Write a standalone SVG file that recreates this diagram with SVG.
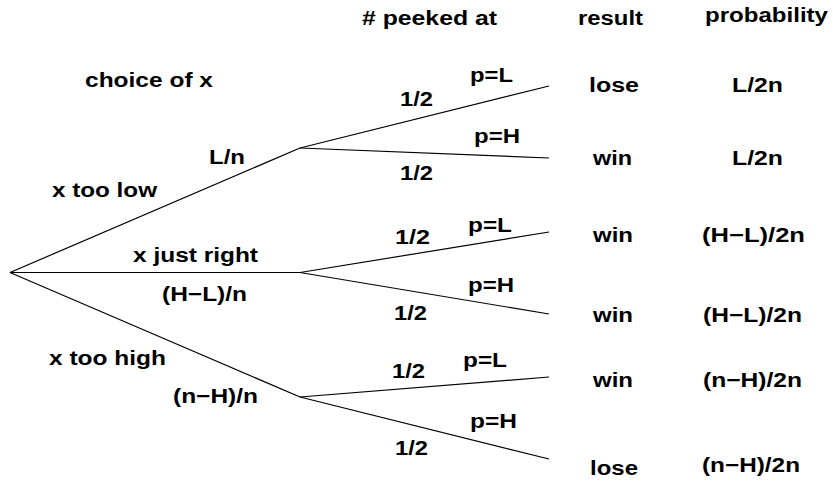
<svg xmlns="http://www.w3.org/2000/svg" width="833" height="482" viewBox="0 0 833 482">
<style>
text{font-family:"Liberation Sans",Arial,Helvetica,sans-serif;font-weight:bold;font-size:20px;fill:#000}
.ln{stroke:#000;stroke-width:1.2;fill:none}
</style>
<rect width="833" height="482" fill="#fff"/>
<g id="connectors">
<line class="ln" x1="10" y1="272.5" x2="300" y2="148"/>
<line class="ln" x1="10" y1="272.5" x2="300" y2="272.5"/>
<line class="ln" x1="10" y1="272.5" x2="300" y2="397"/>
<line class="ln" x1="300" y1="148" x2="549" y2="86"/>
<line class="ln" x1="300" y1="148" x2="549" y2="158"/>
<line class="ln" x1="300" y1="272.5" x2="549" y2="232"/>
<line class="ln" x1="300" y1="272.5" x2="549" y2="314"/>
<line class="ln" x1="300" y1="397" x2="549" y2="377"/>
<line class="ln" x1="300" y1="397" x2="549" y2="459"/>
</g>
<g id="headers">
<text x="362" y="25" textLength="135" lengthAdjust="spacingAndGlyphs"># peeked at</text>
<text x="578" y="25" textLength="65" lengthAdjust="spacingAndGlyphs">result</text>
<text x="705" y="22" textLength="123" lengthAdjust="spacingAndGlyphs">probability</text>
<text x="85" y="87" textLength="128" lengthAdjust="spacingAndGlyphs">choice of x</text>
</g>
<g id="x-too-low">
<text x="52" y="197" textLength="105" lengthAdjust="spacingAndGlyphs">x too low</text>
<text x="209" y="164" textLength="36" lengthAdjust="spacingAndGlyphs">L/n</text>
</g>
<g id="x-just-right">
<text x="133" y="262" textLength="125" lengthAdjust="spacingAndGlyphs">x just right</text>
<text x="162" y="301" textLength="85" lengthAdjust="spacingAndGlyphs">(H−L)/n</text>
</g>
<g id="x-too-high">
<text x="49" y="365" textLength="117" lengthAdjust="spacingAndGlyphs">x too high</text>
<text x="173" y="403" textLength="85" lengthAdjust="spacingAndGlyphs">(n−H)/n</text>
</g>
<g id="low-pL">
<text x="400" y="106" textLength="33" lengthAdjust="spacingAndGlyphs">1/2</text>
<text x="470" y="82" textLength="43" lengthAdjust="spacingAndGlyphs">p=L</text>
<text x="589" y="92" textLength="50" lengthAdjust="spacingAndGlyphs">lose</text>
<text x="732" y="92" textLength="51" lengthAdjust="spacingAndGlyphs">L/2n</text>
</g>
<g id="low-pH">
<text x="400" y="180" textLength="33" lengthAdjust="spacingAndGlyphs">1/2</text>
<text x="474" y="143" textLength="46" lengthAdjust="spacingAndGlyphs">p=H</text>
<text x="593" y="165" textLength="39" lengthAdjust="spacingAndGlyphs">win</text>
<text x="732" y="165" textLength="51" lengthAdjust="spacingAndGlyphs">L/2n</text>
</g>
<g id="right-pL">
<text x="395" y="244" textLength="35" lengthAdjust="spacingAndGlyphs">1/2</text>
<text x="468" y="232" textLength="44" lengthAdjust="spacingAndGlyphs">p=L</text>
<text x="593" y="242" textLength="40" lengthAdjust="spacingAndGlyphs">win</text>
<text x="702" y="242" textLength="103" lengthAdjust="spacingAndGlyphs">(H−L)/2n</text>
</g>
<g id="right-pH">
<text x="394" y="320" textLength="33" lengthAdjust="spacingAndGlyphs">1/2</text>
<text x="468" y="292" textLength="46" lengthAdjust="spacingAndGlyphs">p=H</text>
<text x="593" y="322" textLength="40" lengthAdjust="spacingAndGlyphs">win</text>
<text x="703" y="322" textLength="99" lengthAdjust="spacingAndGlyphs">(H−L)/2n</text>
</g>
<g id="high-pL">
<text x="392" y="378" textLength="33" lengthAdjust="spacingAndGlyphs">1/2</text>
<text x="463" y="367" textLength="44" lengthAdjust="spacingAndGlyphs">p=L</text>
<text x="593" y="387" textLength="40" lengthAdjust="spacingAndGlyphs">win</text>
<text x="703" y="387" textLength="99" lengthAdjust="spacingAndGlyphs">(n−H)/2n</text>
</g>
<g id="high-pH">
<text x="395" y="455" textLength="33" lengthAdjust="spacingAndGlyphs">1/2</text>
<text x="470" y="428" textLength="47" lengthAdjust="spacingAndGlyphs">p=H</text>
<text x="590" y="475" textLength="48" lengthAdjust="spacingAndGlyphs">lose</text>
<text x="702" y="472" textLength="98" lengthAdjust="spacingAndGlyphs">(n−H)/2n</text>
</g>
</svg>
